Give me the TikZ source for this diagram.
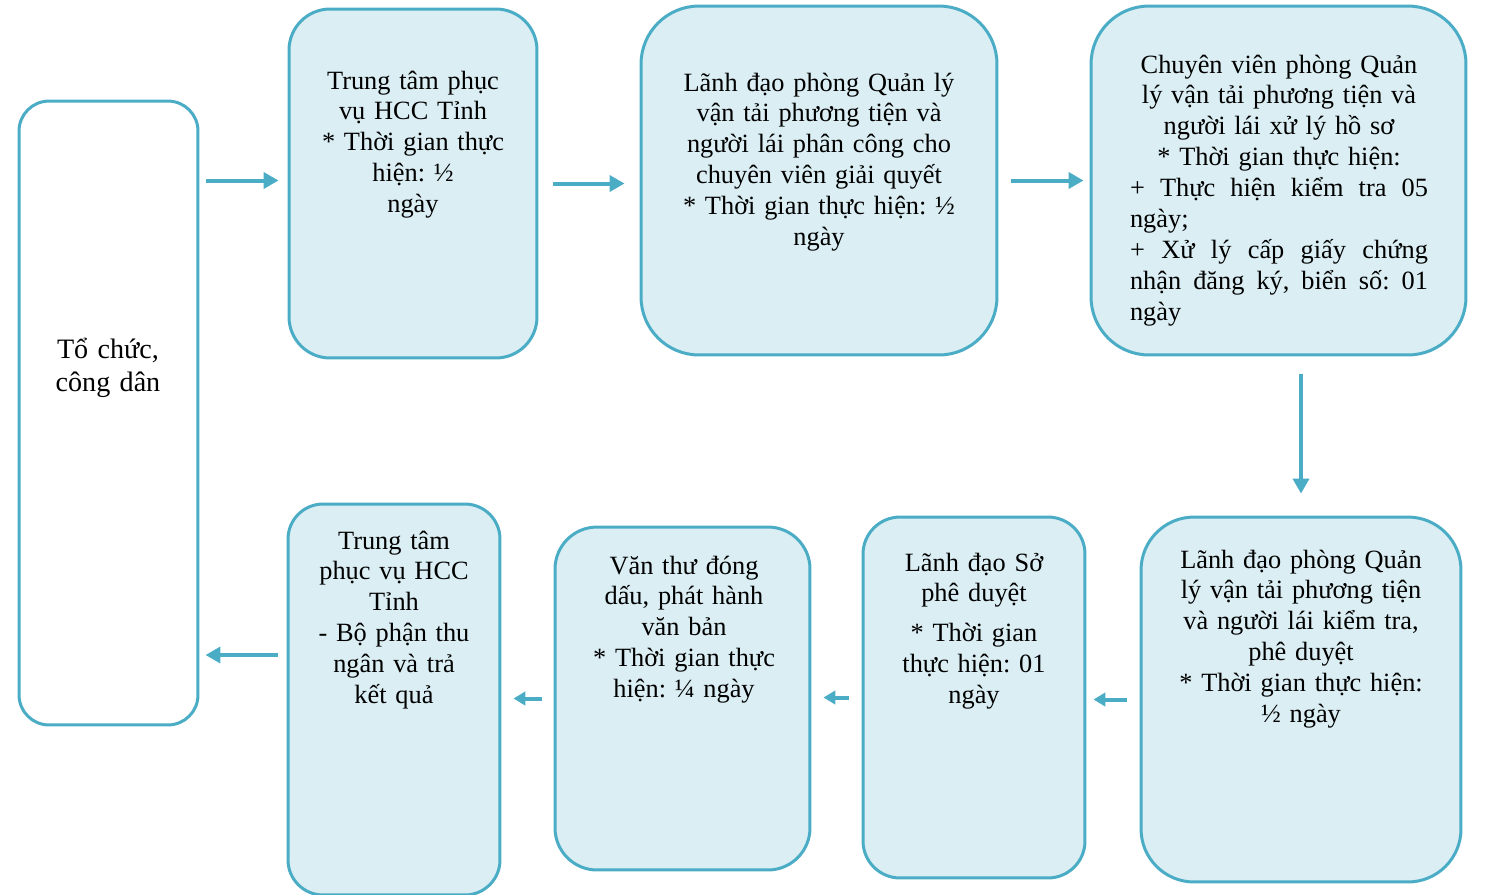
\documentclass[tikz,border=0pt]{standalone}
\usepackage{fontspec}
\setmainfont{Liberation Serif}
\usepackage{xcolor}
\usepackage{tikz}
\usetikzlibrary{
    arrows.meta,
    positioning
}
\frenchspacing
\definecolor{edgeblue}{HTML}{4BACC6}
\definecolor{fillblue}{HTML}{DAEEF3}
\newcommand{\jline}[1]{\leavevmode\hbox to 5.96cm{#1}}
\tikzstyle{box} = [
    rectangle,
    draw=edgeblue,
    line width=0.06cm,
    fill=fillblue,
    inner sep=0pt
]
\tikzstyle{startbox} = [
    box,
    fill=white
]
\tikzstyle{txt} = [
    anchor=base,
    inner sep=0pt,
    align=center,
    font=\fontsize{15pt}{17.6pt}\selectfont
]
\tikzstyle{arrow} = [
    draw=edgeblue,
    line width=0.08cm,
    -{Triangle[length=0.3cm,width=0.32cm]}
]
\tikzstyle{smallarrow} = [
    arrow,
    -{Triangle[length=0.24cm,width=0.27cm]}
]

\begin{document}
\begin{tikzpicture}[x=0.02cm, y=-0.02cm]
    \useasboundingbox (0,0) rectangle (1493,894);

    % boxes
    \node[startbox, minimum width=3.58cm, minimum height=12.48cm, rounded corners=0.6cm]
        (org) at (108.5,413) {};
    \node[box, minimum width=4.96cm, minimum height=6.98cm, rounded corners=0.82cm]
        (hcc) at (413,183.5) {};
    \node[box, minimum width=7.12cm, minimum height=6.98cm, rounded corners=1.16cm]
        (ldp) at (819,180.5) {};
    \node[box, minimum width=7.5cm, minimum height=6.98cm, rounded corners=1.16cm]
        (cv) at (1278.5,180.5) {};
    \node[box, minimum width=6.4cm, minimum height=7.3cm, rounded corners=1.06cm]
        (ldd) at (1301,699.5) {};
    \node[box, minimum width=4.44cm, minimum height=7.22cm, rounded corners=0.74cm]
        (lds) at (974,697.5) {};
    \node[box, minimum width=5.1cm, minimum height=6.86cm, rounded corners=0.84cm]
        (vt) at (682.5,698.5) {};
    \node[box, minimum width=4.24cm, minimum height=7.82cm, rounded corners=0.7cm]
        (ttr) at (394,699.5) {};

    % texts
    \node[txt, text width=3.3cm, font=\fontsize{16pt}{19.3pt}\selectfont]
        (org-t) at (108,358) {Tổ chức,\\ công dân};
    \node[txt, text width=4.5cm] (hcc-t) at (413,89)
        {Trung tâm phục\\ vụ HCC Tỉnh\\ {*} Thời gian thực\\ hiện: ½\\ ngày};
    \node[txt, text width=6.7cm] (ldp-t) at (819,91)
        {Lãnh đạo phòng Quản lý\\ vận tải phương tiện và\\ người lái phân công cho\\
         chuyên viên giải quyết\\ {*} Thời gian thực hiện: ½\\ ngày};
    \node[txt, text width=5.96cm] (cv-t) at (1279,73)
        {Chuyên viên phòng Quản\\ lý vận tải phương tiện và\\ người lái xử lý hồ sơ\\
         {*} Thời gian thực hiện:\\
         \jline{+\hfill Thực\hfill hiện\hfill kiểm\hfill tra\hfill 05}\\
         \jline{ngày;\hfill}\\
         \jline{+\hfill Xử\hfill lý\hfill cấp\hfill giấy\hfill chứng}\\
         \jline{nhận\hfill đăng\hfill ký,\hfill biển\hfill số:\hfill 01}\\
         \jline{ngày\hfill}};
    \node[txt, text width=6cm] (ldd-t) at (1301,568)
        {Lãnh đạo phòng Quản\\ lý vận tải phương tiện\\ và người lái kiểm tra,\\
         phê duyệt\\ {*} Thời gian thực hiện:\\ ½ ngày};
    \node[txt, text width=4.1cm] (lds-t) at (974,571)
        {Lãnh đạo Sở\\ phê duyệt\\[0.17cm] {*} Thời gian\\ thực hiện: 01\\ ngày};
    \node[txt, text width=4.7cm] (vt-t) at (684,574)
        {Văn thư đóng\\ dấu, phát hành\\ văn bản\\ {*} Thời gian thực\\ hiện: ¼ ngày};
    \node[txt, text width=3.9cm] (ttr-t) at (394,549)
        {Trung tâm\\ phục vụ HCC\\ Tỉnh\\ - Bộ phận thu\\ ngân và trả\\ kết quả};

    % arrows
    \draw[arrow, shorten <=0.14cm, shorten >=0.18cm] (org.east |- ldp.west) -- (hcc.west |- ldp.west);
    \draw[arrow, shorten <=0.3cm, shorten >=0.3cm] (hcc.east) -- (hcc.east -| ldp.west);
    \draw[arrow, shorten <=0.26cm, shorten >=0.12cm] (ldp.east) -- (cv.west);
    \draw[arrow, shorten <=0.36cm, shorten >=0.44cm] (cv.south -| ldd.north) -- (ldd.north);
    \draw[smallarrow, shorten <=0.26cm, shorten >=0.14cm] (ldd.west) -- (ldd.west -| lds.east);
    \draw[smallarrow, shorten <=0.26cm, shorten >=0.24cm] (lds.west) -- (lds.west -| vt.east);
    \draw[smallarrow, shorten <=0.24cm, shorten >=0.24cm] (vt.west) -- (vt.west -| ttr.east);
    \draw[arrow, shorten <=0.18cm, shorten >=0.12cm]
        ([yshift=0.89cm]ttr.west) -- ([yshift=0.89cm]ttr.west -| org.east);
\end{tikzpicture}
\end{document}
